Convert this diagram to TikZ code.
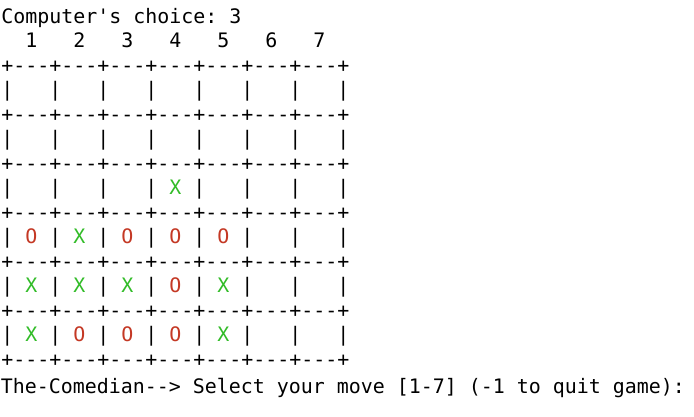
\documentclass[tikz,border=0pt]{standalone}
\usepackage{fontspec}
\setmonofont{DejaVu Sans Mono}
\definecolor{xgreen}{RGB}{50,188,40}
\definecolor{ored}{RGB}{196,56,36}
\newcommand{\gX}{\textcolor{xgreen}{X}}
\newcommand{\rO}{\textcolor{ored}{O}}
\tikzset{termline/.style={anchor=base west, inner sep=0pt, outer sep=0pt,
  font=\ttfamily\fontsize{19.93}{24}\selectfont, text=black}}
\begin{document}
\begin{tikzpicture}[x=1pt,y=-1pt]
\useasboundingbox[fill=white] (0,0) rectangle (694,416);
\node[termline] (l0) at (1.5,23.3) {Computer's~choice:~3};
\node[termline] (l1) at (1.5,47.8) {~~1~~~2~~~3~~~4~~~5~~~6~~~7};
\node[termline] (l2) at (1.5,72.3) {+---+---+---+---+---+---+---+};
\node[termline] (l3) at (1.5,96.8) {|~~~|~~~|~~~|~~~|~~~|~~~|~~~|};
\node[termline] (l4) at (1.5,121.3) {+---+---+---+---+---+---+---+};
\node[termline] (l5) at (1.5,145.8) {|~~~|~~~|~~~|~~~|~~~|~~~|~~~|};
\node[termline] (l6) at (1.5,170.3) {+---+---+---+---+---+---+---+};
\node[termline] (l7) at (1.5,194.8) {|~~~|~~~|~~~|~\gX~|~~~|~~~|~~~|};
\node[termline] (l8) at (1.5,219.3) {+---+---+---+---+---+---+---+};
\node[termline] (l9) at (1.5,243.8) {|~\rO~|~\gX~|~\rO~|~\rO~|~\rO~|~~~|~~~|};
\node[termline] (l10) at (1.5,268.3) {+---+---+---+---+---+---+---+};
\node[termline] (l11) at (1.5,292.8) {|~\gX~|~\gX~|~\gX~|~\rO~|~\gX~|~~~|~~~|};
\node[termline] (l12) at (1.5,317.3) {+---+---+---+---+---+---+---+};
\node[termline] (l13) at (1.5,341.8) {|~\gX~|~\rO~|~\rO~|~\rO~|~\gX~|~~~|~~~|};
\node[termline] (l14) at (1.5,366.3) {+---+---+---+---+---+---+---+};
\node[termline] (l15) at (1.0,393) {The-Comedian-->~Select~your~move~[1-7]~(-1~to~quit~game):};
\end{tikzpicture}
\end{document}
